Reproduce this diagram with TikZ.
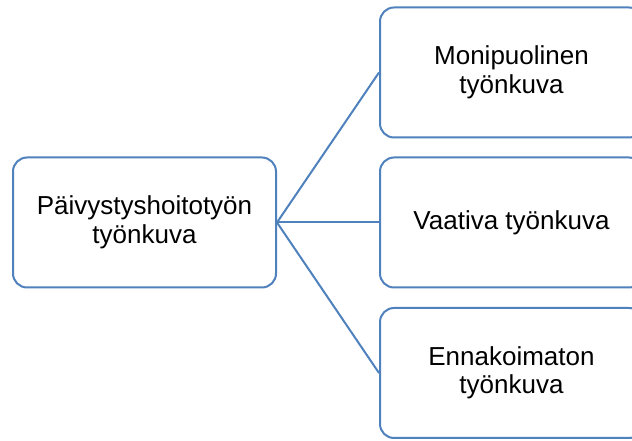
\documentclass[tikz,border=0pt]{standalone}
\usepackage{fontspec}
\setmainfont{Liberation Sans}
\begin{document}
\begin{tikzpicture}[x=1pt,y=1pt,
  box/.style={draw=boxblue, line width=2pt, rounded corners=14pt, fill=white,
    minimum width=263pt, minimum height=130pt, align=center, inner sep=0pt,
    font=\fontsize{26}{28.5}\selectfont},
  link/.style={draw=boxblue, line width=2pt}]
\definecolor{boxblue}{HTML}{4F81BD}
\useasboundingbox (0,0) rectangle (632,441);
\begin{scope}
\clip (0,0) rectangle (632,441);
\node[box] (root) at (144.5,218.5) {Päivystyshoitotyön\\työnkuva};
\node[box] (a) at (511.5,368.5) {Monipuolinen\\työnkuva};
\node[box] (b) at (511.5,218.5) {Vaativa työnkuva};
\node[box] (c) at (511.5,68) {Ennakoimaton\\työnkuva};
\draw[link] (root.east) -- (a.west);
\draw[link] (root.east) -- (b.west);
\draw[link] (root.east) -- (c.west);
\end{scope}
\end{tikzpicture}
\end{document}
